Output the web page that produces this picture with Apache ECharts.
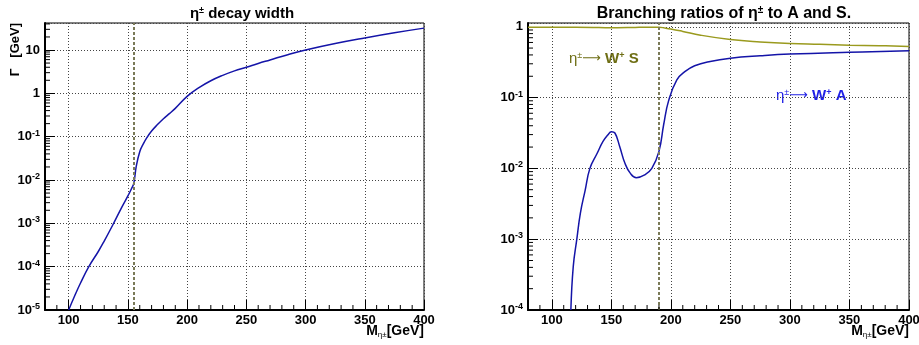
<!DOCTYPE html>
<html>
<head>
<meta charset="utf-8">
<script src="https://cdn.jsdelivr.net/npm/echarts@6/dist/echarts.min.js"></script>
<style>
  html, body { margin: 0; padding: 0; background: #fff; }
  #chart { width: 919px; height: 345px; }
</style>
</head>
<body>
<div id="chart"></div>
<script>
// left pad: total width of eta+- vs its mass
const widthMass = [100, 105, 110, 117, 125, 130, 137, 145, 150, 153, 155, 157, 160, 163, 166, 170, 175, 180, 185, 190,
  200, 210, 220, 230, 240, 250, 260, 270, 285, 300, 325, 350, 375, 400];
const widthGeV = [1e-5, 2.1e-5, 4.2e-5, 1e-4, 2.24e-4, 3.9e-4, 8.9e-4, 2.4e-3, 4.3e-3, 6.3e-3, 8.5e-3, 0.0204, 0.045, 0.068, 0.095, 0.135, 0.19, 0.26, 0.34, 0.45,
  0.85, 1.35, 1.95, 2.6, 3.3, 4.0, 4.9, 5.9, 7.8, 10, 14.1, 19, 25, 32];

// right pad: branching ratios
const brSMass = [80, 100, 120, 135, 145, 155, 170, 185, 190, 195, 200, 210, 225, 250, 275, 300, 325, 350, 375, 400];
const brS = [0.985, 0.985, 0.985, 0.98, 0.97, 0.97, 0.98, 0.985, 0.985, 0.96, 0.93, 0.86, 0.76, 0.66, 0.61, 0.58, 0.565, 0.55, 0.54, 0.525];

const brAMass = [116, 118, 121, 124, 128, 132, 138, 143, 147, 150, 153, 157, 161.5, 166, 171, 178, 184, 190, 194, 198,
  205, 212, 220, 233, 250, 275, 300, 350, 400];
const brA = [1e-4, 4.1e-4, 1e-3, 2.34e-3, 4.9e-3, 1e-2, 1.62e-2, 2.4e-2, 2.95e-2, 3.3e-2, 3.16e-2, 2.04e-2, 1.17e-2, 8.5e-3, 7.4e-3, 8.1e-3, 1e-2, 1.74e-2, 4.2e-2, 8.9e-2,
  0.178, 0.234, 0.282, 0.324, 0.359, 0.389, 0.412, 0.437, 0.457];

// thresholds (dashed lines)
const leftThreshold = 155;
const rightThreshold = 190;

const FONT = 'Liberation Sans';
const BLUE = '#1414a8';
const OLIVE = '#9a9a1e';

function zip(xs, ys) {
  return xs.map((x, i) => [x, ys[i]]);
}

// minor ticks: 10 GeV on x, 2..9 per decade on y
function minorTicks(xMin, xMax, yMin, yMax) {
  const out = [];
  for (let x = xMin + 10; x < xMax; x += 10) {
    if (x % 50 !== 0) out.push([x, yMin, 0]);
  }
  for (let e = Math.floor(Math.log10(yMin)); e <= Math.ceil(Math.log10(yMax)); e++) {
    for (let k = 2; k <= 9; k++) {
      const v = k * Math.pow(10, e);
      if (v > yMin && v < yMax) out.push([xMin, v, 1]);
    }
  }
  return out;
}

function renderMinorTick(params, api) {
  const p = api.coord([api.value(0), api.value(1)]);
  const onY = api.value(2) === 1;
  return {
    type: 'line',
    shape: onY ? { x1: p[0], y1: p[1], x2: p[0] + 5, y2: p[1] } : { x1: p[0], y1: p[1], x2: p[0], y2: p[1] - 5 },
    style: { stroke: '#000', lineWidth: 1 }
  };
}

function logLabel(v) {
  const e = Math.round(Math.log10(v));
  if (e === 0) return '1';
  if (e === 1) return '10';
  return '10{sup|' + e + '}';
}

const labelStyle = {
  fontFamily: FONT, fontWeight: 'bold', fontSize: 13, color: '#000',
  rich: { sup: { fontFamily: FONT, fontWeight: 'bold', fontSize: 9, color: '#000', verticalAlign: 'bottom', padding: [0, 0, 7, 0] } }
};

function xAxisOpt(gridIndex) {
  return {
    type: 'value', gridIndex: gridIndex, min: 80, max: 400, splitNumber: 6,
    axisLine: { onZero: false, lineStyle: { color: '#000', width: 2 } },
    axisTick: { show: true, inside: true, length: 10, lineStyle: { color: '#000', width: 1 } },
    axisLabel: Object.assign({ margin: 4, showMinLabel: false }, labelStyle),
    splitLine: { show: true, lineStyle: { type: [1, 2], color: '#444' } }
  };
}

function yAxisOpt(gridIndex, min, max) {
  return {
    type: 'log', logBase: 10, gridIndex: gridIndex, min: min, max: max,
    axisLine: { show: true, lineStyle: { color: '#000', width: 2 } },
    axisTick: { show: true, inside: true, length: 10, lineStyle: { color: '#000', width: 1 } },
    axisLabel: Object.assign({ margin: 5, showMaxLabel: false, formatter: logLabel }, labelStyle),
    splitLine: { show: true, lineStyle: { type: [1, 2], color: '#444' } }
  };
}

function dashed(x) {
  return {
    silent: true, symbol: 'none', label: { show: false },
    lineStyle: { color: '#7a7a58', width: 2, type: [3, 2] },
    data: [{ xAxis: x }]
  };
}

const titleRich = {
  g: { fontFamily: FONT, fontSize: 15, color: '#000' },
  s: { fontFamily: FONT, fontSize: 9, color: '#000', verticalAlign: 'bottom', padding: [0, 0, 7, 0] },
  b: { fontFamily: FONT, fontSize: 15, fontWeight: 'bold', color: '#000' },
  g2: { fontFamily: FONT, fontSize: 16, color: '#000' },
  s2: { fontFamily: FONT, fontSize: 10, color: '#000', verticalAlign: 'bottom', padding: [0, 0, 7, 0] },
  b2: { fontFamily: FONT, fontSize: 16, fontWeight: 'bold', color: '#000' }
};

function axisNameText(x) {
  return {
    type: 'text', x: x, y: 331, silent: true,
    style: {
      text: '{m|M}{s|η±}{m|[GeV]}', align: 'right', verticalAlign: 'middle',
      rich: {
        m: { fontFamily: FONT, fontSize: 14, fontWeight: 'bold', fill: '#000' },
        s: { fontFamily: FONT, fontSize: 8, fill: '#000', verticalAlign: 'top', padding: [8, 0, 0, 0] }
      }
    }
  };
}

function legendText(x, y, color, particle) {
  return {
    type: 'text', x: x, y: y, silent: true,
    style: {
      text: '{n|η}{s|±}{a|⟶}{b| W}{s2|+}{b| ' + particle + '}', verticalAlign: 'middle',
      rich: {
        n: { fontFamily: FONT, fontSize: 15, fill: color },
        a: { fontFamily: 'DejaVu Sans', fontSize: 13, fill: color },
        s: { fontFamily: FONT, fontSize: 9, fill: color, verticalAlign: 'bottom', padding: [0, 0, 7, 0] },
        s2: { fontFamily: FONT, fontSize: 9, fontWeight: 'bold', fill: color, verticalAlign: 'bottom', padding: [0, 0, 7, 0] },
        b: { fontFamily: FONT, fontSize: 15, fontWeight: 'bold', fill: color }
      }
    }
  };
}

const chart = echarts.init(document.getElementById('chart'));
chart.setOption({
  animation: false,
  backgroundColor: '#fff',
  title: [
    { text: '{g|η}{s|±}{b| decay width}', left: 237, top: 1, textAlign: 'center', textStyle: { rich: titleRich } },
    { text: '{b2|Branching ratios of }{g2|η}{s2|±}{b2| to A and S.}', left: 719, top: 0, textAlign: 'center', textStyle: { rich: titleRich } }
  ],
  grid: [
    { left: 45, top: 23, width: 379, height: 287, show: true, borderColor: '#000', borderWidth: 1, containLabel: false, outerBoundsMode: 'none' },
    { left: 528, top: 23, width: 381, height: 287, show: true, borderColor: '#000', borderWidth: 1, containLabel: false, outerBoundsMode: 'none' }
  ],
  xAxis: [xAxisOpt(0), xAxisOpt(1)],
  yAxis: [yAxisOpt(0, 1e-5, 42), yAxisOpt(1, 1e-4, 1.13)],
  series: [
    {
      name: 'width', type: 'line', xAxisIndex: 0, yAxisIndex: 0, data: zip(widthMass, widthGeV),
      showSymbol: false, smooth: 0.45, lineStyle: { color: BLUE, width: 1.5 },
      markLine: dashed(leftThreshold)
    },
    {
      name: 'W+ S', type: 'line', xAxisIndex: 1, yAxisIndex: 1, data: zip(brSMass, brS),
      showSymbol: false, smooth: 0.45, lineStyle: { color: OLIVE, width: 1.5 },
      markLine: dashed(rightThreshold)
    },
    {
      name: 'W+ A', type: 'line', xAxisIndex: 1, yAxisIndex: 1, data: zip(brAMass, brA),
      showSymbol: false, smooth: 0.45, lineStyle: { color: BLUE, width: 1.5 }
    },
    {
      type: 'custom', coordinateSystem: 'cartesian2d', xAxisIndex: 0, yAxisIndex: 0, silent: true, z: 10,
      dimensions: ['x', 'y', 'kind'], encode: { x: 0, y: 1 },
      data: minorTicks(80, 400, 1e-5, 42), renderItem: renderMinorTick
    },
    {
      type: 'custom', coordinateSystem: 'cartesian2d', xAxisIndex: 1, yAxisIndex: 1, silent: true, z: 10,
      dimensions: ['x', 'y', 'kind'], encode: { x: 0, y: 1 },
      data: minorTicks(80, 400, 1e-4, 1.13), renderItem: renderMinorTick
    }
  ],
  graphic: [
    {
      type: 'text', x: 15, y: 23, rotation: Math.PI / 2, silent: true,
      style: { text: 'Γ   [GeV]', align: 'right', verticalAlign: 'middle', fontFamily: FONT, fontSize: 13, fontWeight: 'bold', fill: '#000' }
    },
    axisNameText(424),
    axisNameText(909),
    legendText(569, 59, '#6e6e14', 'S'),
    legendText(776, 96, '#2020e6', 'A')
  ]
});
</script>
</body>
</html>
